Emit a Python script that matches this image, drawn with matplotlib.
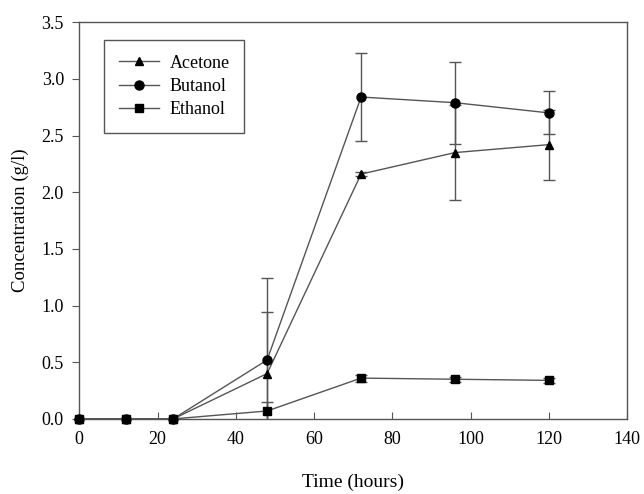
import matplotlib
matplotlib.use("Agg")
import matplotlib.pyplot as plt

# data
time_h = [0, 12, 24, 48, 72, 96, 120]
acetone = [0, 0, 0, 0.40, 2.16, 2.35, 2.42]
acetone_err = [0, 0, 0, 0.54, 0.02, 0.42, 0.31]
butanol = [0, 0, 0, 0.52, 2.84, 2.79, 2.70]
butanol_err = [0, 0, 0, 0.72, 0.385, 0.36, 0.19]
ethanol = [0, 0, 0, 0.07, 0.36, 0.35, 0.34]
ethanol_err = [0, 0, 0, 0.08, 0.03, 0.02, 0.02]

plt.rcParams["font.family"] = ["Liberation Serif", "DejaVu Serif"]

fig = plt.figure(figsize=(6.44, 4.94), dpi=100)
ax = fig.add_axes([0.123, 0.152, 0.851, 0.803])

line_c = "#555555"
series = [
    ("Acetone", acetone, acetone_err, "^", 6),
    ("Butanol", butanol, butanol_err, "o", 6.5),
    ("Ethanol", ethanol, ethanol_err, "s", 5.5),
]
handles = []
for label, y, err, m, ms in series:
    # error bars clipped at the axes like in the original
    ax.errorbar(time_h, y, yerr=err, fmt="none", ecolor=line_c,
                elinewidth=1.0, capsize=4, capthick=1.0, zorder=2)
    h, = ax.plot(time_h, y, color=line_c, lw=1.0, marker=m, ms=ms,
                 mfc="black", mec="black", label=label, clip_on=False,
                 zorder=3)
    handles.append(h)

ax.set_xlim(0, 140)
ax.set_ylim(0, 3.5)
ax.set_xticks(range(0, 141, 20))
ax.set_yticks([i * 0.5 for i in range(8)])
ax.set_yticklabels([f"{i * 0.5:.1f}" for i in range(8)])
ax.tick_params(axis="x", direction="in", length=5, labelsize=13, pad=9,
               color=line_c)
ax.tick_params(axis="y", direction="out", length=5, labelsize=13, pad=6,
               color=line_c)
for s in ax.spines.values():
    s.set_color(line_c)
    s.set_linewidth(1.0)

ax.set_xlabel("Time (hours)", fontsize=14, labelpad=18)
ax.set_ylabel("Concentration (g/l)", fontsize=13.5, labelpad=9)

leg = ax.legend(handles=handles, loc="upper left",
                bbox_to_anchor=(0.046, 0.955), borderaxespad=0,
                fontsize=13, fancybox=False, edgecolor=line_c, framealpha=1,
                handlelength=2.2, handletextpad=0.6, borderpad=0.8,
                labelspacing=0.35)
leg.get_frame().set_linewidth(1.0)

fig.savefig("out.png", dpi=100)
